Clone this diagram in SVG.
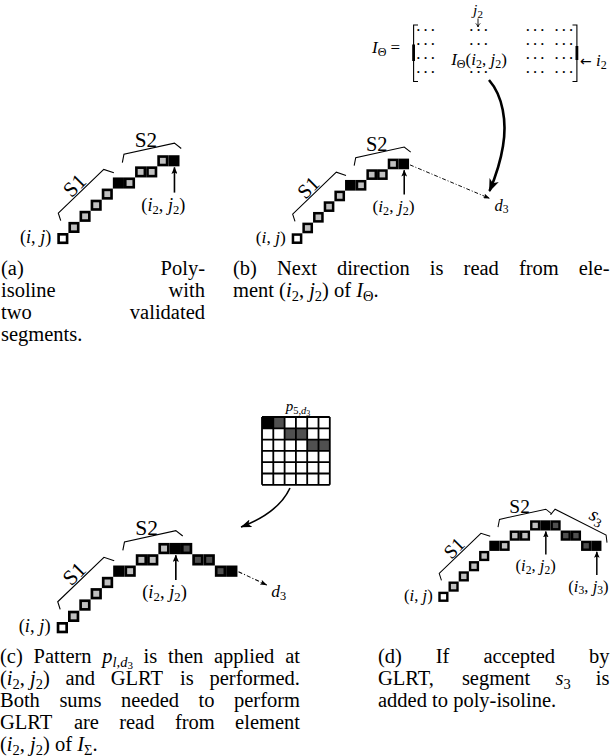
<svg xmlns="http://www.w3.org/2000/svg" width="610" height="756" viewBox="0 0 610 756">
<style>
text{font-family:"Liberation Serif","Times New Roman",serif;fill:#000}
.cap{font-size:20.5px}
.m{font-style:italic}
.lbl{font-size:18px}
.sl{font-size:21px}
.mx{font-size:17px}
.dots{font-size:17px;letter-spacing:1.6px}
.w{fill:#fff;stroke:#000;stroke-width:2.6}
.g{fill:#c0c0c0;stroke:#000;stroke-width:2.6}
.b{fill:#000;stroke:#000;stroke-width:2.6}
.d{fill:#505050;stroke:#000;stroke-width:2.6}
.br{fill:none;stroke:#000;stroke-width:1.1}
.ar{fill:none;stroke:#000;stroke-width:1.6}
.dd{fill:none;stroke:#000;stroke-width:1;stroke-dasharray:4 2 1 2}
</style>
<defs>
<marker id="hs" markerUnits="userSpaceOnUse" viewBox="0 0 7 6" markerWidth="7" markerHeight="6" refX="6.5" refY="3" orient="auto"><path d="M0,0 L7,3 L0,6 L1.5,3 z"/></marker>
<marker id="hd" markerUnits="userSpaceOnUse" viewBox="0 0 7 5" markerWidth="7" markerHeight="5" refX="6.5" refY="2.5" orient="auto"><path d="M0,0 L7,2.5 L0,5 L1.5,2.5 z"/></marker>
<marker id="hb" markerUnits="userSpaceOnUse" viewBox="0 0 13 10" markerWidth="13" markerHeight="10" refX="12" refY="5" orient="auto"><path d="M0,0 L13,5 L0,10 L3.5,5 z"/></marker>
<marker id="hm" markerUnits="userSpaceOnUse" viewBox="0 0 11 8" markerWidth="11" markerHeight="8" refX="10.5" refY="4" orient="auto"><path d="M0,0 L11,4 L0,8 L2.5,4 z"/></marker>
<g id="chain11">
<rect class="w" x="1.3" y="1.3" width="8.4" height="8.4"/>
<rect class="g" x="12.3" y="-9.7" width="8.4" height="8.4"/>
<rect class="g" x="23.3" y="-20.7" width="8.4" height="8.4"/>
<rect class="g" x="34.3" y="-31.7" width="8.4" height="8.4"/>
<rect class="g" x="45.3" y="-42.7" width="8.4" height="8.4"/>
<rect class="b" x="56.3" y="-53.7" width="8.4" height="8.4"/>
<rect class="g" x="67.3" y="-53.7" width="8.4" height="8.4"/>
<rect class="g" x="78.3" y="-64.7" width="8.4" height="8.4"/>
<rect class="g" x="89.3" y="-64.7" width="8.4" height="8.4"/>
<rect class="g" x="100.3" y="-75.7" width="8.4" height="8.4"/>
<rect class="b" x="111.3" y="-75.7" width="8.4" height="8.4"/>
</g>
<g id="chain16">
<use href="#chain11"/>
<rect class="d" x="122.3" y="-75.7" width="8.4" height="8.4"/>
<rect class="d" x="133.3" y="-64.7" width="8.4" height="8.4"/>
<rect class="d" x="144.3" y="-64.7" width="8.4" height="8.4"/>
<rect class="d" x="155.3" y="-53.7" width="8.4" height="8.4"/>
<rect class="b" x="166.3" y="-53.7" width="8.4" height="8.4"/>
</g>
<path id="brk12" class="br" d="M3.4,-12.3 L1,-19.7 L46,-63 L56,-59.7 M64.4,-69.7 L66,-78 L116,-89 L122.7,-83.7"/>
</defs>

<!-- panel (a) -->
<g id="panel-a" transform="translate(57.3,233) scale(1.01)">
<use href="#chain11"/>
<use href="#brk12"/>
<text class="sl" transform="translate(17,-47) rotate(-45)" y="7" text-anchor="middle">S1</text>
<text class="sl" x="87.7" y="-85" text-anchor="middle">S2</text>
<text class="lbl" x="-6" y="10" text-anchor="end">(<tspan class="m">i</tspan>, <tspan class="m">j</tspan>)</text>
<text class="lbl" x="105" y="-22" text-anchor="middle">(<tspan class="m">i</tspan><tspan font-size="12.5" dy="3">2</tspan><tspan dy="-3">, </tspan><tspan class="m">j</tspan><tspan font-size="12.5" dy="3">2</tspan><tspan dy="-3">)</tspan></text>
</g>

<!-- panel (b) -->
<g id="panel-b" transform="translate(291.7,233.3) scale(0.97)">
<use href="#chain11"/>
<use href="#brk12"/>
<text class="sl" transform="translate(17,-47) rotate(-45)" y="7" text-anchor="middle">S1</text>
<text class="sl" x="87.7" y="-85" text-anchor="middle">S2</text>
<text class="lbl" x="-6" y="10" text-anchor="end">(<tspan class="m">i</tspan>, <tspan class="m">j</tspan>)</text>
<text class="lbl" x="105" y="-22" text-anchor="middle">(<tspan class="m">i</tspan><tspan font-size="12.5" dy="3">2</tspan><tspan dy="-3">, </tspan><tspan class="m">j</tspan><tspan font-size="12.5" dy="3">2</tspan><tspan dy="-3">)</tspan></text>
<text class="mx" x="209" y="-23.5"><tspan class="m">d</tspan><tspan font-size="12" dy="3">3</tspan></text>
</g>

<!-- matrix I_Theta -->
<g id="matrix">
<text font-size="15.5" x="478" y="14.5" text-anchor="middle"><tspan class="m">j</tspan><tspan font-size="11" dy="3">2</tspan></text>
<text class="mx" x="372" y="53"><tspan class="m">I</tspan><tspan font-size="12" dy="3">Θ</tspan><tspan dy="-3"> =</tspan></text>
<path class="br" d="M418,25 H413.6 V81.5 H418 M572.5,25 H576.9 V81.5 H572.5"/>
<path fill="none" stroke="#000" stroke-width="2.8" d="M413.6,44.5 V61 M576.9,46 V60"/>
<text class="dots" x="426.5" y="35.5" text-anchor="middle">···</text>
<text class="dots" x="479.4" y="35.5" text-anchor="middle">···</text>
<text class="dots" x="535.9" y="35.5" text-anchor="middle">···</text>
<text class="dots" x="564.7" y="35.5" text-anchor="middle">···</text>
<text class="dots" x="426.5" y="49.5" text-anchor="middle">···</text>
<text class="dots" x="479.4" y="49.5" text-anchor="middle">···</text>
<text class="dots" x="535.9" y="49.5" text-anchor="middle">···</text>
<text class="dots" x="564.7" y="49.5" text-anchor="middle">···</text>
<text class="dots" x="426.5" y="63.5" text-anchor="middle">···</text>
<text class="mx" x="479" y="64.5" text-anchor="middle"><tspan class="m">I</tspan><tspan font-size="12" dy="3">Θ</tspan><tspan dy="-3">(</tspan><tspan class="m">i</tspan><tspan font-size="12" dy="3">2</tspan><tspan dy="-3">, </tspan><tspan class="m">j</tspan><tspan font-size="12" dy="3">2</tspan><tspan dy="-3">)</tspan></text>
<text class="dots" x="535.9" y="63.5" text-anchor="middle">···</text>
<text class="dots" x="564.7" y="63.5" text-anchor="middle">···</text>
<text class="dots" x="426.5" y="77.5" text-anchor="middle">···</text>
<text class="dots" x="479.4" y="77.5" text-anchor="middle">···</text>
<text class="dots" x="535.9" y="77.5" text-anchor="middle">···</text>
<text class="dots" x="564.7" y="77.5" text-anchor="middle">···</text>
<text class="mx" x="580" y="66"><tspan font-family="DejaVu Sans" font-size="14">←</tspan> <tspan class="m">i</tspan><tspan font-size="12" dy="3">2</tspan></text>
</g>

<!-- pattern p -->
<g id="pattern">
<text font-size="15" x="298" y="411" text-anchor="middle"><tspan class="m">p</tspan><tspan font-size="10.5" dy="3">5,</tspan><tspan font-size="10.5" class="m">d</tspan><tspan font-size="8" dy="2">3</tspan></text>
<rect x="262" y="417" width="67.8" height="67.8" fill="#fff"/>
<rect x="262" y="417" width="11.3" height="11.3" fill="#000"/>
<rect x="273.3" y="417" width="11.3" height="11.3" fill="#505050"/>
<rect x="284.6" y="428.3" width="22.6" height="11.3" fill="#505050"/>
<rect x="307.2" y="439.6" width="22.6" height="11.3" fill="#505050"/>
<path fill="none" stroke="#000" stroke-width="1.8" d="M262,417 V484.8 M273.3,417 V484.8 M284.6,417 V484.8 M295.9,417 V484.8 M307.2,417 V484.8 M318.5,417 V484.8 M329.8,417 V484.8 M262,417 H329.8 M262,428.3 H329.8 M262,439.6 H329.8 M262,450.9 H329.8 M262,462.2 H329.8 M262,473.5 H329.8 M262,484.8 H329.8"/>
</g>

<!-- panel (c) -->
<g id="panel-c" transform="translate(56.7,622) scale(1.027)">
<use href="#chain16"/>
<use href="#brk12"/>
<text class="sl" transform="translate(17,-47) rotate(-45)" y="7" text-anchor="middle">S1</text>
<text class="sl" x="87.7" y="-85" text-anchor="middle">S2</text>
<text class="lbl" x="-6" y="10" text-anchor="end">(<tspan class="m">i</tspan>, <tspan class="m">j</tspan>)</text>
<text class="lbl" x="105" y="-23" text-anchor="middle">(<tspan class="m">i</tspan><tspan font-size="12.5" dy="3">2</tspan><tspan dy="-3">, </tspan><tspan class="m">j</tspan><tspan font-size="12.5" dy="3">2</tspan><tspan dy="-3">)</tspan></text>
<text class="mx" x="209" y="-24.5"><tspan class="m">d</tspan><tspan font-size="12" dy="3">3</tspan></text>
</g>

<!-- panel (d) -->
<g id="panel-d" transform="translate(438.3,591.7) scale(0.927)">
<use href="#chain16"/>
<use href="#brk12"/>
<path class="br" d="M121,-83 L126,-89 L181,-61 L182,-53"/>
<text class="sl" transform="translate(17,-47) rotate(-45)" y="7" text-anchor="middle">S1</text>
<text class="sl" x="87.7" y="-85" text-anchor="middle">S2</text>
<text class="sl" transform="translate(171,-81) rotate(27)" y="6" text-anchor="middle"><tspan class="m">s</tspan><tspan font-size="14" dy="4">3</tspan></text>
<text class="lbl" x="-6" y="10" text-anchor="end">(<tspan class="m">i</tspan>, <tspan class="m">j</tspan>)</text>
<text class="lbl" x="105" y="-22" text-anchor="middle">(<tspan class="m">i</tspan><tspan font-size="12.5" dy="3">2</tspan><tspan dy="-3">, </tspan><tspan class="m">j</tspan><tspan font-size="12.5" dy="3">2</tspan><tspan dy="-3">)</tspan></text>
<text class="lbl" x="162" y="0" text-anchor="middle">(<tspan class="m">i</tspan><tspan font-size="12.5" dy="3">3</tspan><tspan dy="-3">, </tspan><tspan class="m">j</tspan><tspan font-size="12.5" dy="3">3</tspan><tspan dy="-3">)</tspan></text>
</g>

<!-- connectors -->
<g id="connectors">
<path fill="none" stroke="#000" stroke-width="0.9" d="M478,18.5 V26.5 M475.8,23.4 Q477.3,24.5 478,27 Q478.7,24.5 480.2,23.4"/>
<path fill="none" stroke="#000" stroke-width="2.6" marker-end="url(#hb)" d="M489,80 C503,96 507,122 503,146 C500,165 495,178 489.5,191"/>
<path fill="none" stroke="#000" stroke-width="1.6" marker-end="url(#hm)" d="M290,488 C284,501 270,516 241,527"/>
<g transform="translate(57.3,233) scale(1.01)">
<path class="ar" marker-end="url(#hs)" d="M116,-40 V-65"/>
</g>
<g transform="translate(291.7,233.3) scale(0.97)">
<path class="ar" marker-end="url(#hs)" d="M116,-40 V-65"/>
<path class="dd" marker-end="url(#hd)" d="M122,-70.5 L204,-36"/>
</g>
<g transform="translate(56.7,622) scale(1.027)">
<path class="ar" marker-end="url(#hs)" d="M116,-41 V-65"/>
<path class="dd" marker-end="url(#hd)" d="M177,-49 L204.5,-36"/>
</g>
<g transform="translate(438.3,591.7) scale(0.927)">
<path class="ar" marker-end="url(#hs)" d="M116,-40 V-65"/>
<path class="ar" marker-end="url(#hs)" d="M171,-18 V-43"/>
</g>
</g>

<!-- captions -->
<g id="captions">
<text class="cap" x="1" y="275">(a)</text>
<text class="cap" x="205" y="275" text-anchor="end">Poly-</text>
<text class="cap" x="1" y="297">isoline</text>
<text class="cap" x="205" y="297" text-anchor="end">with</text>
<text class="cap" x="1" y="319">two</text>
<text class="cap" x="205" y="319" text-anchor="end">validated</text>
<text class="cap" x="1" y="341">segments.</text>

<text class="cap" x="233" y="275">(b)</text>
<text class="cap" x="277" y="275">Next</text>
<text class="cap" x="336.9" y="275">direction</text>
<text class="cap" x="429.8" y="275">is</text>
<text class="cap" x="463.6" y="275">read</text>
<text class="cap" x="518.9" y="275">from</text>
<text class="cap" x="609.5" y="275" text-anchor="end">ele-</text>
<text class="cap" x="233" y="297">ment (<tspan class="m">i</tspan><tspan font-size="14.5" dy="4">2</tspan><tspan dy="-4">, </tspan><tspan class="m">j</tspan><tspan font-size="14.5" dy="4">2</tspan><tspan dy="-4">) of </tspan><tspan class="m">I</tspan><tspan font-size="14.5" dy="4">Θ</tspan><tspan dy="-4">.</tspan></text>

<text class="cap" x="0" y="662.5">(c)</text>
<text class="cap" x="33.5" y="662.5">Pattern</text>
<text class="cap" x="102.3" y="662.5"><tspan class="m">p</tspan><tspan font-size="14.5" dy="4"><tspan class="m">l</tspan>,<tspan class="m">d</tspan></tspan><tspan font-size="11" dy="2.5">3</tspan></text>
<text class="cap" x="143.6" y="662.5">is</text>
<text class="cap" x="168" y="662.5">then</text>
<text class="cap" x="214" y="662.5">applied</text>
<text class="cap" x="300" y="662.5" text-anchor="end">at</text>

<text class="cap" x="0" y="684.5">(<tspan class="m">i</tspan><tspan font-size="14.5" dy="4">2</tspan><tspan dy="-4">, </tspan><tspan class="m">j</tspan><tspan font-size="14.5" dy="4">2</tspan><tspan dy="-4">)</tspan></text>
<text class="cap" x="65.5" y="684.5">and</text>
<text class="cap" x="110.8" y="684.5">GLRT</text>
<text class="cap" x="180" y="684.5">is</text>
<text class="cap" x="300" y="684.5" text-anchor="end">performed.</text>

<text class="cap" x="0" y="706.5">Both</text>
<text class="cap" x="59.4" y="706.5">sums</text>
<text class="cap" x="121" y="706.5">needed</text>
<text class="cap" x="198.6" y="706.5">to</text>
<text class="cap" x="300" y="706.5" text-anchor="end">perform</text>

<text class="cap" x="0" y="728.5">GLRT</text>
<text class="cap" x="73.9" y="728.5">are</text>
<text class="cap" x="119.2" y="728.5">read</text>
<text class="cap" x="174.9" y="728.5">from</text>
<text class="cap" x="300" y="728.5" text-anchor="end">element</text>

<text class="cap" x="0" y="750.5">(<tspan class="m">i</tspan><tspan font-size="14.5" dy="4">2</tspan><tspan dy="-4">, </tspan><tspan class="m">j</tspan><tspan font-size="14.5" dy="4">2</tspan><tspan dy="-4">) of </tspan><tspan class="m">I</tspan><tspan font-size="14.5" dy="4">Σ</tspan><tspan dy="-4">.</tspan></text>

<text class="cap" x="378" y="662.5">(d)</text>
<text class="cap" x="435.8" y="662.5">If</text>
<text class="cap" x="483.4" y="662.5">accepted</text>
<text class="cap" x="609.5" y="662.5" text-anchor="end">by</text>
<text class="cap" x="378" y="684.5">GLRT,</text>
<text class="cap" x="461.9" y="684.5">segment</text>
<text class="cap" x="555.4" y="684.5"><tspan class="m">s</tspan><tspan font-size="14.5" dy="4">3</tspan></text>
<text class="cap" x="609.5" y="684.5" text-anchor="end">is</text>
<text class="cap" x="378" y="706.5">added to poly-isoline.</text>
</g>
</svg>
